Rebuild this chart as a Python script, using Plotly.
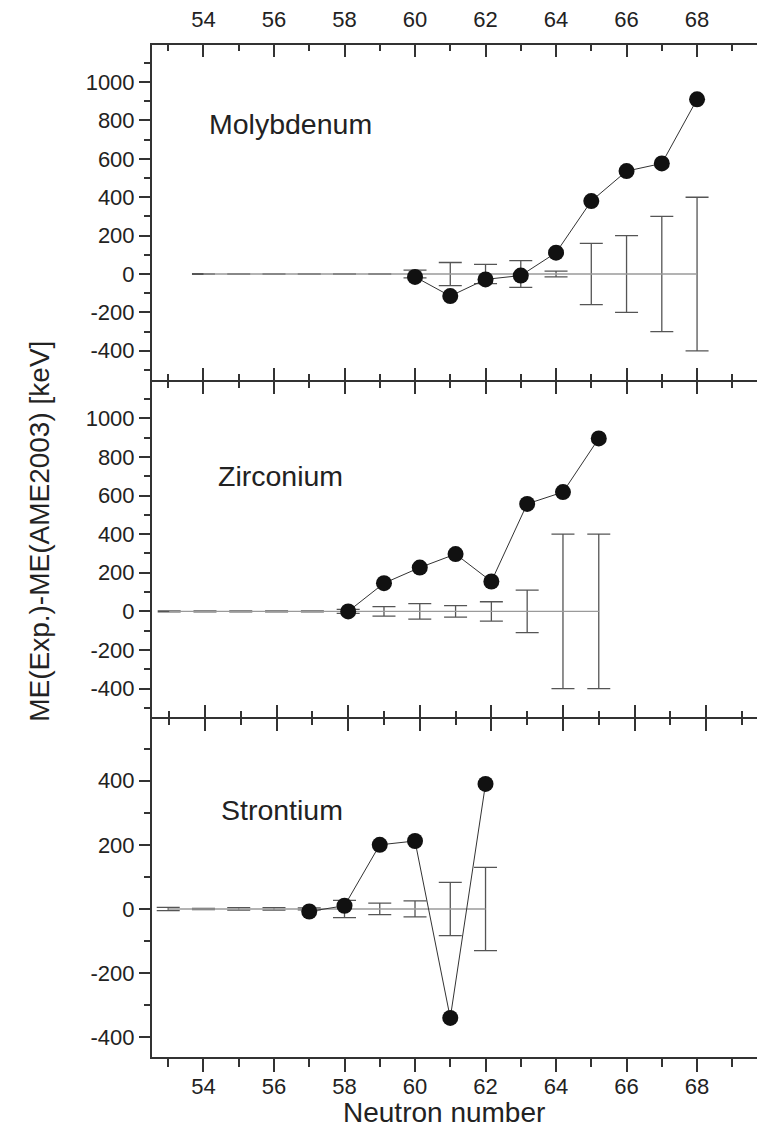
import plotly.graph_objects as go

# ---------------- data ----------------
# Molybdenum
n_mo = [60, 61, 62, 63, 64, 65, 66, 67, 68]
me_mo = [-15, -115, -28, -8, 111, 380, 536, 576, 910]
n_mo_ame = [54, 55, 56, 57, 58, 59, 60, 61, 62, 63, 64, 65, 66, 67, 68]
ame_mo = [0, 0, 0, 0, 0, 0, 0, 0, 0, 0, 0, 0, 0, 0, 0]
err_mo = [2, 2, 2, 2, 2, 2, 20, 60, 50, 70, 15, 160, 200, 300, 400]

# Zirconium
n_zr = [58, 59, 60, 61, 62, 63, 64, 65]
me_zr = [0, 146, 227, 297, 155, 557, 618, 896]
n_zr_ame = [53, 54, 55, 56, 57, 58, 59, 60, 61, 62, 63, 64, 65]
ame_zr = [0, 0, 0, 0, 0, 0, 0, 0, 0, 0, 0, 0, 0]
err_zr = [2, 2, 2, 2, 2, 10, 25, 40, 30, 50, 110, 400, 400]

# Strontium
n_sr = [57, 58, 59, 60, 61, 62]
me_sr = [-8, 10, 200, 212, -340, 390]
n_sr_ame = [53, 54, 55, 56, 57, 58, 59, 60, 61, 62]
ame_sr = [0, 0, 0, 0, 0, 0, 0, 0, 0, 0]
err_sr = [5, 2, 4, 4, 3, 27, 18, 25, 83, 130]

x_major = [54, 56, 58, 60, 62, 64, 66, 68]
x_minor = [53, 55, 57, 59, 61, 63, 65, 67, 69]
y_major_big = [-400, -200, 0, 200, 400, 600, 800, 1000]
y_minor_big = [-500, -300, -100, 100, 300, 500, 700, 900, 1100]
y_major_sr = [-400, -200, 0, 200, 400]
y_minor_sr = [-300, -100, 100, 300, 500]

panel_names = ["Molybdenum", "Zirconium", "Strontium"]

# ---------------- style ----------------
FONT = "Liberation Sans, Arial, sans-serif"
AX = "#333333"
TXT = "#222222"
ERRC = "#555555"
ZEROC = "#9a9a9a"

fig = go.Figure()


def add_panel(nx, ny, n_ame, ame, err, xa, ya):
    fig.add_trace(go.Scatter(
        x=n_ame, y=ame, mode="lines", xaxis=xa, yaxis=ya,
        line=dict(color=ZEROC, width=1.4),
        error_y=dict(type="data", array=err, visible=True,
                     color=ERRC, thickness=1.3, width=11.5),
        showlegend=False, hoverinfo="skip"))
    fig.add_trace(go.Scatter(
        x=nx, y=ny, mode="lines+markers", xaxis=xa, yaxis=ya,
        line=dict(color="#333333", width=1),
        marker=dict(size=16, color="#111111"),
        showlegend=False))


add_panel(n_mo, me_mo, n_mo_ame, ame_mo, err_mo, "x", "y")
add_panel(n_zr, me_zr, n_zr_ame, ame_zr, err_zr, "x4", "y2")
add_panel(n_sr, me_sr, n_sr_ame, ame_sr, err_sr, "x6", "y3")

# empty traces so the extra tick-only axes (crossing ticks at panel joins) get drawn
for xa, ya in [("x2", "y"), ("x3", "y"), ("x5", "y2")]:
    fig.add_trace(go.Scatter(x=[None], y=[None], xaxis=xa, yaxis=ya,
                             mode="markers", showlegend=False, hoverinfo="skip"))

RANGE_MO = [52.54, 69.70]
RANGE_ZR = [52.52, 69.42]


def xax(rng, anchor, side, ticks, labels=False, overlaying=None, ticklen=12,
        minorlen=6, standoff=0):
    d = dict(range=rng, anchor=anchor, side=side, domain=[0, 1],
             showline=True, linecolor=AX, linewidth=2,
             ticks=ticks, ticklen=ticklen, tickwidth=2, tickcolor=AX,
             tickvals=x_major, ticktext=[str(v) for v in x_major],
             showticklabels=labels,
             tickfont=dict(family=FONT, size=22, color=TXT),
             minor=dict(tickvals=x_minor, ticks=ticks, ticklen=minorlen,
                        tickwidth=2, tickcolor=AX),
             showgrid=False, zeroline=False, fixedrange=True)
    if standoff:
        d["ticklabelstandoff"] = standoff
    if overlaying:
        d["overlaying"] = overlaying
    return d


def yax(rng, domain, anchor, major, minor):
    return dict(range=rng, domain=domain, anchor=anchor,
                showline=True, linecolor=AX, linewidth=2,
                ticks="outside", ticklen=11, tickwidth=2, tickcolor=AX,
                tickvals=major, ticktext=[str(v) for v in major],
                showticklabels=True,
                tickfont=dict(family=FONT, size=22, color=TXT),
                minor=dict(tickvals=minor, ticks="outside", ticklen=6,
                           tickwidth=2, tickcolor=AX),
                showgrid=False, zeroline=False, fixedrange=True)


fig.update_layout(
    width=757, height=1132,
    margin=dict(l=152, r=0, t=45, b=75),
    paper_bgcolor="white", plot_bgcolor="white",
    showlegend=False,
    xaxis=xax(RANGE_MO, "y", "top", "inside", labels=True, standoff=7),
    xaxis2=xax(RANGE_MO, "y", "bottom", "inside", overlaying="x"),
    xaxis3=xax(RANGE_MO, "y", "bottom", "outside", overlaying="x"),
    xaxis4=xax(RANGE_ZR, "y2", "bottom", "inside"),
    xaxis5=xax(RANGE_ZR, "y2", "bottom", "outside", overlaying="x4"),
    xaxis6=xax(RANGE_MO, "y3", "bottom", "outside", labels=True,
               ticklen=13, minorlen=8, standoff=-4),
    yaxis=yax([-552, 1193], [0.669, 1.0], "x", y_major_big, y_minor_big),
    yaxis2=yax([-547, 1199], [0.336, 0.669], "x4", y_major_big, y_minor_big),
    yaxis3=yax([-462, 599], [0.0, 0.336], "x6", y_major_sr, y_minor_sr),
)

fig.add_annotation(text=panel_names[0], x=54.1, y=781, xref="x", yref="y",
                   xanchor="left", yanchor="middle", showarrow=False,
                   font=dict(family=FONT, size=28.5, color=TXT))
fig.add_annotation(text=panel_names[1], x=54.31, y=703, xref="x4", yref="y2",
                   xanchor="left", yanchor="middle", showarrow=False,
                   font=dict(family=FONT, size=28.5, color=TXT))
fig.add_annotation(text=panel_names[2], x=54.44, y=309, xref="x6", yref="y3",
                   xanchor="left", yanchor="middle", showarrow=False,
                   font=dict(family=FONT, size=28.5, color=TXT))

fig.add_annotation(text="Neutron number", x=0.4826, y=-0.0545,
                   xref="paper", yref="paper", xanchor="center", yanchor="middle",
                   showarrow=False, font=dict(family=FONT, size=28, color=TXT))
fig.add_annotation(text="ME(Exp.)-ME(AME2003) [keV]", x=-0.185, y=0.519,
                   xref="paper", yref="paper", xanchor="center", yanchor="middle",
                   textangle=-90, showarrow=False,
                   font=dict(family=FONT, size=28, color=TXT))

fig.write_html("out.html")
